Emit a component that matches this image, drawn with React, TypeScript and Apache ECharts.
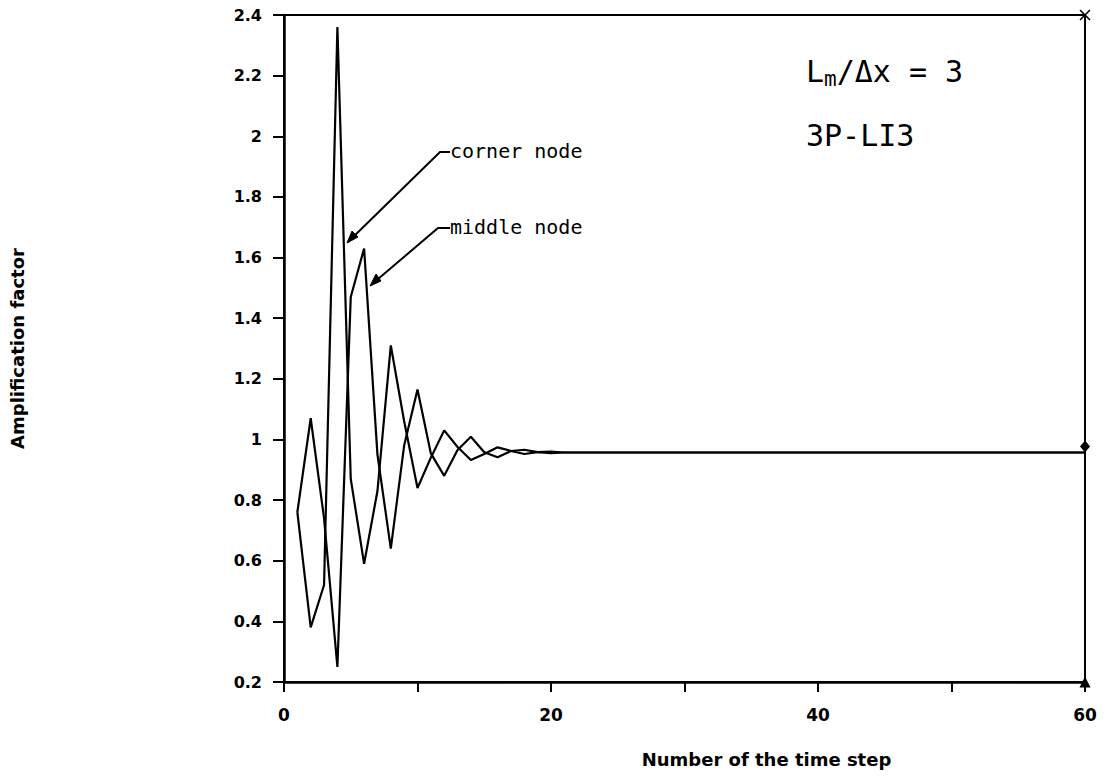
import React, { useEffect, useRef } from "react";
import * as echarts from "echarts";

// Time steps at which the amplification factor was recorded (the response is flat after step 21)
const steps = [1, 2, 3, 4, 5, 6, 7, 8, 9, 10, 11, 12, 13, 14, 15, 16, 17, 18, 19, 20, 21, 60];

// Amplification factor of the corner node
const cornerNode = [
  0.76, 0.38, 0.52, 2.36, 0.87, 0.59, 0.83, 1.31, 1.06, 0.84, 0.94, 1.03, 0.975, 0.932, 0.952,
  0.974, 0.962, 0.952, 0.958, 0.96, 0.957, 0.957,
];

// Amplification factor of the middle node
const middleNode = [
  0.76, 1.07, 0.74, 0.25, 1.47, 1.63, 0.95, 0.64, 0.98, 1.165, 0.954, 0.88, 0.965, 1.009, 0.958,
  0.941, 0.962, 0.966, 0.958, 0.955, 0.957, 0.957,
];

// Plot-end symbols on the right-hand frame
const endMarkerX = [60, 60, 60];
const endMarkerY = [2.4, 0.977, 0.2];
const endMarkerSymbols = [
  "path://M0,1L1,0L5,4L9,0L10,1L6,5L10,9L9,10L5,6L1,10L0,9L4,5Z",
  "diamond",
  "triangle",
];

const xLabelSteps = [0, 20, 40, 60];

const AXIS_FONT = "'DejaVu Sans', 'Liberation Sans', sans-serif";
const NOTE_FONT = "'DejaVu Sans Mono', 'Liberation Mono', monospace";

export default function App() {
  const ref = useRef<HTMLDivElement>(null);

  useEffect(() => {
    if (!ref.current) return;
    const chart = echarts.init(ref.current, undefined, { renderer: "svg" });

    const toPairs = (ys: number[]) => steps.map((s, i) => [s, ys[i]]);

    chart.setOption({
      animation: false,
      backgroundColor: "#ffffff",
      grid: {
        left: 276,
        right: 21,
        top: 15,
        bottom: 100,
        show: true,
        borderColor: "#000",
        borderWidth: 2,
      },
      xAxis: {
        type: "value",
        min: 0,
        max: 60,
        interval: 10,
        name: "Number of the time step",
        nameLocation: "middle",
        nameGap: 68,
        nameTextStyle: {
          fontFamily: AXIS_FONT,
          fontWeight: "bold",
          fontSize: 18,
          color: "#000",
          padding: [0, 0, 0, 164],
        },
        axisLine: { show: true, lineStyle: { color: "#000", width: 2.5 } },
        axisTick: { show: true, inside: false, length: 10, lineStyle: { color: "#000", width: 2 } },
        axisLabel: {
          margin: 24,
          fontFamily: AXIS_FONT,
          fontWeight: "bold",
          fontSize: 17,
          color: "#000",
          formatter: (v: number) => (xLabelSteps.includes(v) ? String(v) : ""),
        },
        splitLine: { show: false },
      },
      yAxis: {
        type: "value",
        min: 0.2,
        max: 2.4,
        interval: 0.2,
        name: "Amplification factor",
        nameLocation: "middle",
        nameRotate: 90,
        nameGap: 246,
        nameTextStyle: {
          fontFamily: AXIS_FONT,
          fontWeight: "bold",
          fontSize: 18,
          color: "#000",
          padding: [0, 0, 12, 0],
        },
        axisLine: { show: true, lineStyle: { color: "#000", width: 2.5 } },
        axisTick: { show: true, inside: false, length: 11, lineStyle: { color: "#000", width: 2 } },
        axisLabel: {
          margin: 22,
          fontFamily: AXIS_FONT,
          fontWeight: "bold",
          fontSize: 16,
          color: "#000",
        },
        splitLine: { show: false },
      },
      series: [
        {
          name: "corner node",
          type: "line",
          data: toPairs(cornerNode),
          showSymbol: false,
          lineStyle: { color: "#000", width: 2.2 },
        },
        {
          name: "middle node",
          type: "line",
          data: toPairs(middleNode),
          showSymbol: false,
          lineStyle: { color: "#000", width: 2.2 },
        },
        {
          name: "end markers",
          type: "scatter",
          clip: false,
          data: endMarkerX.map((x, i) => ({
            value: [x, endMarkerY[i]],
            symbol: endMarkerSymbols[i],
            symbolSize: i === 1 ? [10, 12] : 11,
          })),
          itemStyle: { color: "#000", opacity: 1 },
          z: 5,
        },
      ],
      graphic: [
        {
          type: "text",
          left: 806,
          top: 56,
          style: {
            text: "{a|L}{s|m}{a|/Δx = 3}",
            rich: {
              a: { fontFamily: NOTE_FONT, fontSize: 30, fill: "#000", color: "#000" },
              s: {
                fontFamily: NOTE_FONT,
                fontSize: 21,
                fill: "#000",
                color: "#000",
                padding: [15, 0, 0, 0],
              },
            },
          },
        },
        {
          type: "text",
          left: 806,
          top: 120,
          style: {
            text: "3P-LI3",
            fontFamily: NOTE_FONT,
            fontSize: 30,
            fill: "#000",
          },
        },
        // Arrow to the corner-node curve
        {
          type: "polyline",
          shape: { points: [[450, 152], [440, 152], [348, 242]] },
          style: { stroke: "#000", lineWidth: 2, fill: "none" },
        },
        {
          type: "polygon",
          shape: { points: [[347, 243], [352, 231], [358, 237]] },
          style: { fill: "#000", stroke: "#000", lineWidth: 1 },
        },
        {
          type: "text",
          left: 450,
          top: 141,
          style: { text: "corner node", fontFamily: NOTE_FONT, fontSize: 20, fill: "#000" },
        },
        // Arrow to the middle-node curve
        {
          type: "polyline",
          shape: { points: [[450, 228], [438, 228], [371, 285]] },
          style: { stroke: "#000", lineWidth: 2, fill: "none" },
        },
        {
          type: "polygon",
          shape: { points: [[370, 286], [376, 274], [381, 281]] },
          style: { fill: "#000", stroke: "#000", lineWidth: 1 },
        },
        {
          type: "text",
          left: 450,
          top: 217,
          style: { text: "middle node", fontFamily: NOTE_FONT, fontSize: 20, fill: "#000" },
        },
      ],
    });

    return () => chart.dispose();
  }, []);

  return (
    <div
      ref={ref}
      style={{ position: "fixed", left: 0, top: 0, width: 1106, height: 782, background: "#fff" }}
    />
  );
}
